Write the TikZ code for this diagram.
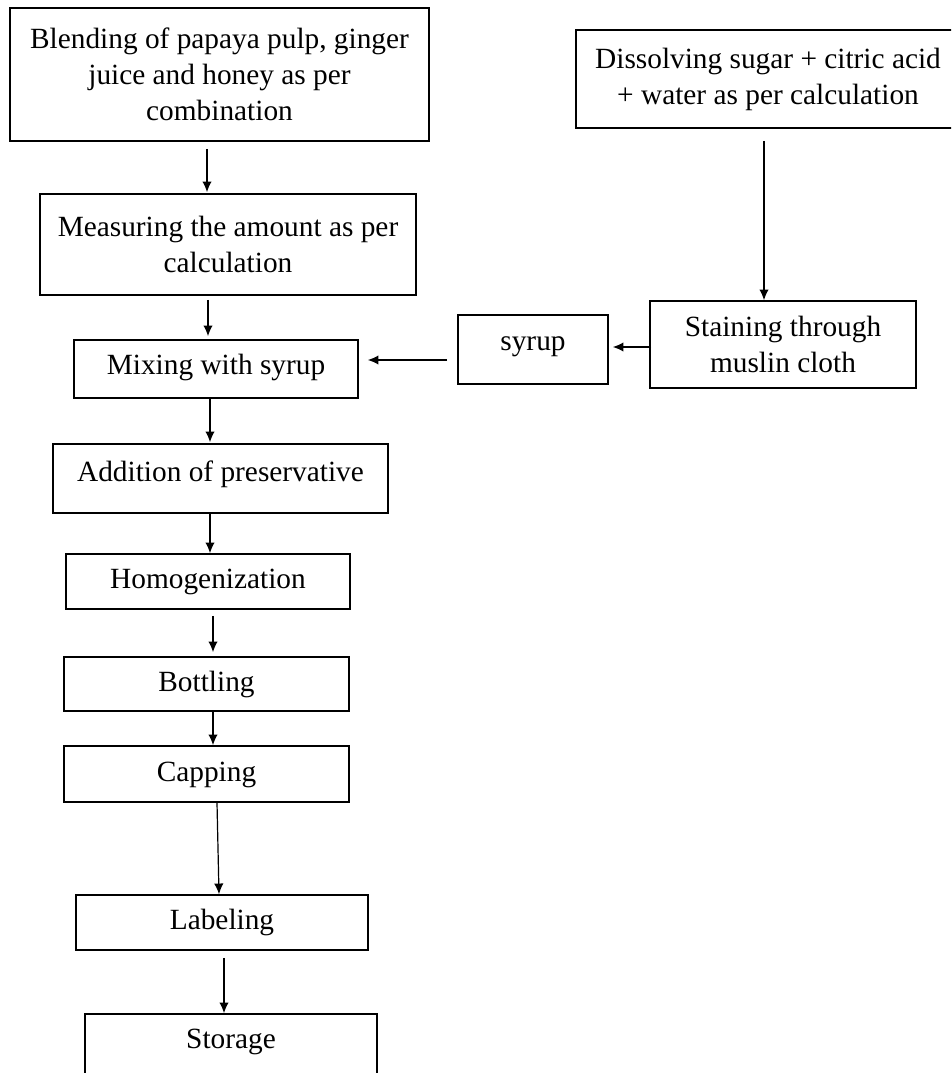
\documentclass[tikz,border=0pt]{standalone}
\usepackage{fontspec}
\setmainfont{Liberation Serif}
\usetikzlibrary{arrows}
\usetikzlibrary{arrows.meta}

\begin{document}
\begin{tikzpicture}[x=0.75pt,y=-0.75pt]
		\tikzset{box/.style = {shape=rectangle,draw,line width=1.2pt,inner sep=0pt,
				font=\fontsize{22}{27}\selectfont,align=center}}
		\tikzset{onebox/.style = {box,text height=15pt,text depth=4pt}}
		\tikzset{edge/.style = {->,> = {Latex[length=8pt,width=7pt]},line width=0.9pt}}
		\useasboundingbox (0,0) rectangle (951,1073);
		\clip (0,0) rectangle (951,1073);
		% vertices
		\node[box,minimum width=314.25pt,minimum height=99.75pt] (blend) at (219.5,74.5) {Blending of papaya pulp, ginger\\juice and honey as per\\combination};
		\node[box,minimum width=288pt,minimum height=73.5pt] (dissolve) at (768,79) {Dissolving sugar + citric acid\\+ water as per calculation};
		\node[box,minimum width=282pt,minimum height=75.75pt] (measure) at (228,244.5) {Measuring the amount as per\\calculation};
		\node[box,minimum width=199.5pt,minimum height=65.25pt] (strain) at (783,344.5) {Staining through\\muslin cloth};
		\node[onebox,text depth=14pt,minimum width=112.5pt,minimum height=51.75pt] (syrup) at (533,349.5) {syrup};
		\node[onebox,text depth=7pt,minimum width=213pt,minimum height=43.5pt] (mix) at (216,369) {Mixing with syrup};
		\node[onebox,text depth=9.8pt,minimum width=251.25pt,minimum height=51.75pt] (preserve) at (220.5,478.5) {Addition of preservative};
		\node[onebox,minimum width=213pt,minimum height=41.25pt] (homog) at (208,581.5) {Homogenization};
		\node[onebox,minimum width=213.75pt,minimum height=40.5pt] (bottle) at (206.5,684) {Bottling};
		\node[onebox,minimum width=213.75pt,minimum height=42pt] (cap) at (206.5,774) {Capping};
		\node[onebox,minimum width=219pt,minimum height=41.25pt] (label) at (222,922.5) {Labeling};
		\node[onebox,text depth=13.5pt,minimum width=219pt,minimum height=49.5pt] (store) at (231,1047) {Storage};
		% edges
		\path[edge] ([shift={(-12.5,7)}]blend.south) edge ([shift={(-21,-1)}]measure.north);
		\path[edge] ([shift={(-20,4)}]measure.south) edge ([shift={(-8,-3)}]mix.north);
		\path[edge] ([shift={(-6,0)}]mix.south) edge ([shift={(-10.5,-1)}]preserve.north);
		\path[edge] ([shift={(-10.5,0)}]preserve.south) edge ([shift={(2,0)}]homog.north);
		\path[edge] ([shift={(5,6)}]homog.south) edge ([shift={(6.5,-4)}]bottle.north);
		\path[edge] ([shift={(6.5,0)}]bottle.south) edge ([shift={(6.5,0)}]cap.north);
		\path[edge] ([shift={(10.5,0)}]cap.south) edge ([shift={(-3,0)}]label.north);
		\path[edge] ([shift={(2,7)}]label.south) edge ([shift={(-7,0)}]store.north);
		\path[edge] ([shift={(-4,12)}]dissolve.south) edge ([shift={(-19,0)}]strain.north);
		\path[edge] ([shift={(2,2.5)}]strain.west) edge ([shift={(4,-2.5)}]syrup.east);
		\path[edge] ([shift={(-10,10.5)}]syrup.west) edge ([shift={(9,-9)}]mix.east);
\end{tikzpicture}
\end{document}
